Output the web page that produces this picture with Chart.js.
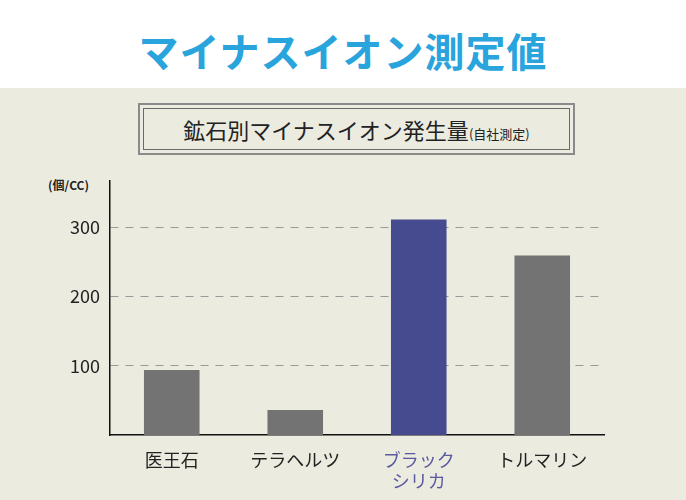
<!DOCTYPE html>
<html><head><meta charset="utf-8">
<script src="https://cdn.jsdelivr.net/npm/chart.js@4"></script>
<style>
body{margin:0;width:686px;height:500px;overflow:hidden;font-family:"Noto Sans CJK JP",sans-serif;background:#ebebe0;position:relative}
#hd{position:absolute;left:0;top:0;width:686px;height:88px;background:#fff;color:#2aa4dc;font-weight:bold;font-size:40px;text-align:center;line-height:100px;letter-spacing:1px}
#box{position:absolute;left:138px;top:103px;width:437px;height:52px;border:2px solid #8a8a8a;box-sizing:border-box;padding:3px}
#box div{border:1.5px solid #6a6a6a;height:100%;box-sizing:border-box;text-align:center;font-size:22px;line-height:40px;color:#222}
#box small{font-size:13px}
#unit{position:absolute;left:48px;top:176px;font-size:12px;font-weight:bold;color:#222}
#c{position:absolute;left:0;top:160px}
</style></head><body>
<div id="hd">マイナスイオン測定値</div>
<div id="box"><div>鉱石別マイナスイオン発生量<small>(自社測定)</small></div></div>
<div id="unit">(個/CC)</div>
<canvas id="c" width="686" height="340"></canvas>
<script>
const categories=[["医王石"],["テラヘルツ"],["ブラック","シリカ"],["トルマリン"]];
const values=[94,36,311,259];
const barColors=["#737373","#737373","#464a8e","#737373"];
const labelColors=["#222","#222","#5a5aa0","#222"];
const yTicks=[100,200,300];
new Chart(document.getElementById('c'),{type:'bar',
data:{labels:categories,datasets:[{data:values,backgroundColor:barColors,barPercentage:0.45,categoryPercentage:1}]},
options:{responsive:false,animation:false,devicePixelRatio:1,
layout:{padding:{left:0,right:82,top:0,bottom:0}},
plugins:{legend:{display:false},tooltip:{enabled:false}},
scales:{
x:{grid:{display:false},border:{color:'#111',width:1.5},
ticks:{color:labelColors,font:{size:18,family:'"Noto Sans CJK JP"'},padding:6,maxRotation:0},
afterFit:s=>{s.height=65}},
y:{min:0,max:367,border:{color:'#111',width:1.5},
afterBuildTicks:s=>{s.ticks=yTicks.map(v=>({value:v}))},
grid:{color:'#999',lineWidth:1,drawTicks:false,tickLength:0},
border:{color:'#111',width:1.5,dash:[8,7]},
ticks:{color:'#222',font:{size:18,family:'"Noto Sans CJK JP"'},padding:10},
afterFit:s=>{s.width=110}}
}}});
</script></body></html>
